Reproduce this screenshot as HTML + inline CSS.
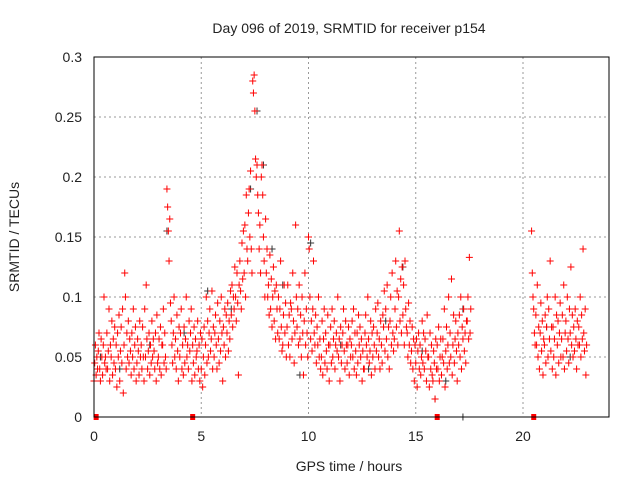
<!DOCTYPE html>
<html><head><meta charset="utf-8"><style>
body{margin:0;background:#fff;font-family:"Liberation Sans",sans-serif}
svg text{font-family:"Liberation Sans",sans-serif;fill:#222}
</style></head><body>
<svg id="c" width="640" height="480">
<text x="349" y="33" font-size="14" text-anchor="middle">Day 096 of 2019, SRMTID for receiver p154</text>
<text x="349" y="471" font-size="14" text-anchor="middle">GPS time / hours</text>
<text transform="translate(19,237) rotate(-90)" font-size="14" text-anchor="middle">SRMTID / TECUs</text>
<g id="grid"></g><g id="marks"></g>
<rect x="94" y="57" width="515" height="360" fill="none" stroke="#000" stroke-width="1"/>
</svg>
<script>
const xTicks=[0,5,10,15,20];
const yTicks=[0,0.05,0.1,0.15,0.2,0.25,0.3];
const yTickLabels=["0","0.05","0.1","0.15","0.2","0.25","0.3"];
// bin start hours (0.2 h bins) and the values observed within each bin
const binT=[0,0.2,0.4,0.6,0.8,1.0,1.2,1.4,1.6,1.8,2.0,2.2,2.4,2.6,2.8,3.0,3.2,3.4,3.6,3.8,4.0,4.2,4.4,4.6,4.8,5.0,5.2,5.4,5.6,5.8,6.0,6.2,6.4,6.6,6.8,7.0,7.2,7.4,7.6,7.8,8.0,8.2,8.4,8.6,8.8,9.0,9.2,9.4,9.6,9.8,10.0,10.2,10.4,10.6,10.8,11.0,11.2,11.4,11.6,11.8,12.0,12.2,12.4,12.6,12.8,13.0,13.2,13.4,13.6,13.8,14.0,14.2,14.4,14.6,14.8,15.0,15.2,15.4,15.6,15.8,16.0,16.2,16.4,16.6,16.8,17.0,17.2,17.4,20.4,20.6,20.8,21.0,21.2,21.4,21.6,21.8,22.0,22.2,22.4,22.6,22.8];
const binV=[
[0.03,0.045,0.06,0.035,0.05,0.04],[0.055,0.07,0.04,0.03,0.065,0.05],[0.035,0.06,0.1,0.045,0.05,0.04],[0.07,0.04,0.055,0.09,0.03,0.06],[0.05,0.08,0.035,0.065,0.045,0.075],
[0.04,0.06,0.025,0.07,0.05,0.085],[0.03,0.055,0.075,0.045,0.09,0.02],[0.06,0.12,0.1,0.04,0.07,0.05],[0.08,0.045,0.065,0.055,0.035,0.07],[0.05,0.09,0.04,0.06,0.075,0.03],
[0.045,0.065,0.055,0.035,0.08,0.05],[0.06,0.04,0.075,0.05,0.03,0.09],[0.05,0.11,0.065,0.04,0.055,0.07],[0.035,0.06,0.045,0.08,0.05,0.065],[0.055,0.04,0.07,0.03,0.085,0.045],
[0.05,0.065,0.04,0.075,0.035,0.06],[0.06,0.09,0.045,0.07,0.05,0.04],[0.19,0.175,0.155,0.13,0.165,0.095],[0.08,0.06,0.045,0.07,0.1,0.05],[0.065,0.04,0.085,0.055,0.03,0.075],
[0.05,0.07,0.09,0.04,0.06,0.035],[0.075,0.045,0.065,0.1,0.05,0.06],[0.04,0.08,0.055,0.07,0.09,0.03],[0.06,0.045,0.075,0.035,0.065,0.05],[0.055,0.08,0.04,0.06,0.03,0.07],
[0.04,0.065,0.025,0.05,0.075,0.035],[0.06,0.1,0.045,0.08,0.05,0.07],[0.09,0.055,0.065,0.105,0.04,0.075],[0.05,0.07,0.085,0.06,0.04,0.095],[0.065,0.045,0.08,0.055,0.1,0.07],
[0.03,0.075,0.06,0.09,0.05,0.085],[0.07,0.095,0.055,0.08,0.065,0.105],[0.085,0.11,0.075,0.1,0.09,0.125],[0.1,0.08,0.12,0.095,0.035,0.11],[0.13,0.105,0.09,0.145,0.115,0.155],
[0.12,0.16,0.1,0.185,0.14,0.13],[0.17,0.19,0.15,0.205,0.14,0.12],[0.28,0.27,0.285,0.255,0.215,0.2],[0.21,0.185,0.17,0.14,0.16,0.12],[0.2,0.21,0.185,0.15,0.13,0.1],
[0.165,0.12,0.14,0.1,0.11,0.085],[0.135,0.09,0.115,0.075,0.1,0.125],[0.08,0.105,0.065,0.11,0.09,0.07],[0.1,0.065,0.09,0.13,0.075,0.055],[0.06,0.085,0.11,0.07,0.095,0.05],
[0.075,0.11,0.06,0.085,0.05,0.095],[0.09,0.065,0.12,0.08,0.045,0.07],[0.16,0.1,0.075,0.09,0.06,0.11],[0.065,0.085,0.05,0.1,0.07,0.035],[0.08,0.12,0.06,0.09,0.07,0.05],
[0.15,0.14,0.1,0.065,0.08,0.055],[0.09,0.13,0.07,0.06,0.085,0.045],[0.075,0.06,0.1,0.05,0.065,0.04],[0.05,0.08,0.035,0.065,0.09,0.045],[0.07,0.055,0.04,0.085,0.06,0.03],
[0.06,0.075,0.045,0.09,0.05,0.065],[0.08,0.04,0.06,0.07,0.055,0.1],[0.05,0.065,0.03,0.075,0.045,0.06],[0.07,0.09,0.055,0.04,0.08,0.06],[0.045,0.06,0.075,0.035,0.065,0.05],
[0.06,0.08,0.05,0.09,0.04,0.07],[0.055,0.035,0.07,0.045,0.085,0.06],[0.075,0.05,0.065,0.03,0.055,0.04],[0.04,0.07,0.085,0.06,0.05,0.1],[0.065,0.045,0.055,0.08,0.035,0.07],
[0.05,0.075,0.06,0.04,0.09,0.055],[0.07,0.095,0.05,0.065,0.04,0.08],[0.06,0.045,0.085,0.075,0.105,0.055],[0.09,0.065,0.11,0.05,0.075,0.04],[0.08,0.1,0.06,0.12,0.07,0.055],
[0.065,0.09,0.13,0.075,0.105,0.06],[0.1,0.155,0.08,0.115,0.07,0.125],[0.085,0.11,0.06,0.13,0.09,0.075],[0.07,0.05,0.095,0.06,0.08,0.045],[0.055,0.075,0.04,0.065,0.03,0.06],
[0.045,0.065,0.025,0.055,0.07,0.04],[0.06,0.035,0.05,0.08,0.045,0.07],[0.04,0.065,0.055,0.03,0.085,0.05],[0.05,0.025,0.07,0.04,0.06,0.035],[0.03,0.055,0.045,0.015,0.065,0.04],
[0.06,0.04,0.075,0.03,0.05,0.065],[0.035,0.05,0.065,0.045,0.09,0.025],[0.055,0.075,0.04,0.06,0.1,0.045],[0.07,0.05,0.115,0.035,0.06,0.085],[0.045,0.065,0.08,0.055,0.03,0.07],
[0.06,0.085,0.05,0.1,0.04,0.075],[0.065,0.09,0.055,0.07,0.045,0.08],[0.08,0.1,0.065,0.133,0.07,0.09],
[0.155,0.12,0.1,0.09,0.07,0.06],[0.085,0.06,0.11,0.05,0.075,0.04],[0.07,0.095,0.055,0.08,0.035,0.065],[0.06,0.085,0.045,0.075,0.1,0.05],[0.09,0.065,0.13,0.055,0.075,0.04],
[0.075,0.05,0.065,0.1,0.035,0.085],[0.06,0.08,0.045,0.07,0.095,0.05],[0.065,0.085,0.05,0.11,0.04,0.07],[0.08,0.055,0.1,0.065,0.045,0.09],[0.07,0.125,0.06,0.085,0.05,0.075],
[0.055,0.09,0.065,0.04,0.08,0.06],[0.075,0.06,0.1,0.05,0.085,0.065],[0.14,0.07,0.055,0.09,0.035,0.06]];
const blackT=[0.3,1.2,2.6,3.4,4.2,5.3,6.4,7.3,7.6,7.9,8.3,8.8,9.6,10.1,11.5,12.8,13.6,14.4,15.3,15.9,16.4,17.2,21.1,22.2];
const blackV=[0.05,0.04,0.06,0.155,0.07,0.105,0.09,0.19,0.255,0.21,0.14,0.11,0.035,0.145,0.06,0.04,0.08,0.125,0.055,0.015,0.03,0.09,0.075,0.05];
const zeroT=[0.1,4.6,16,20.5];
const zeroBlackT=[17.2];
const X=t=>94+t*21.45, Y=v=>417-v*1200;
const ns="http://www.w3.org/2000/svg";
const grid=document.getElementById('grid'),marks=document.getElementById('marks');
function el(tag,attrs,parent){const e=document.createElementNS(ns,tag);for(const k in attrs)e.setAttribute(k,attrs[k]);parent.appendChild(e);return e;}
xTicks.forEach(t=>{
 if(t>0){const g=el('line',{x1:X(t),x2:X(t),y1:57,y2:417,stroke:'#999','stroke-dasharray':'2,3'},grid);
 
 }
 const tk=el('text',{x:X(t),y:441,'font-size':14,'text-anchor':'middle'},grid);tk.textContent=t;
 
 
});
yTicks.forEach((v,i)=>{
 if(v>0){const g=el('line',{x1:94,x2:609,y1:Y(v),y2:Y(v),stroke:'#999','stroke-dasharray':'2,3'},grid);
 
 }
 const tk=el('text',{x:82,y:Y(v)+5,'font-size':14,'text-anchor':'end'},grid);tk.textContent=yTickLabels[i];
 
 
});
function plus(t,v,col){const x=X(t),y=Y(v);
 const p=el('path',{d:`M${x-3.5} ${y}h7M${x} ${y-3.5}v7`,stroke:col,'stroke-width':1},marks);
 
 }
blackT.forEach((t,i)=>plus(t,blackV[i],'#333'));
binT.forEach((t,i)=>binV[i].forEach((v,k)=>plus(t+k*0.033,v,'#f00')));
zeroT.forEach(t=>{const r=el('rect',{x:X(t)-2.5,y:414,width:5,height:6,fill:'#f00'},marks);
 
 });
zeroBlackT.forEach(t=>plus(t,0,'#333'));
</script>
</body></html>
